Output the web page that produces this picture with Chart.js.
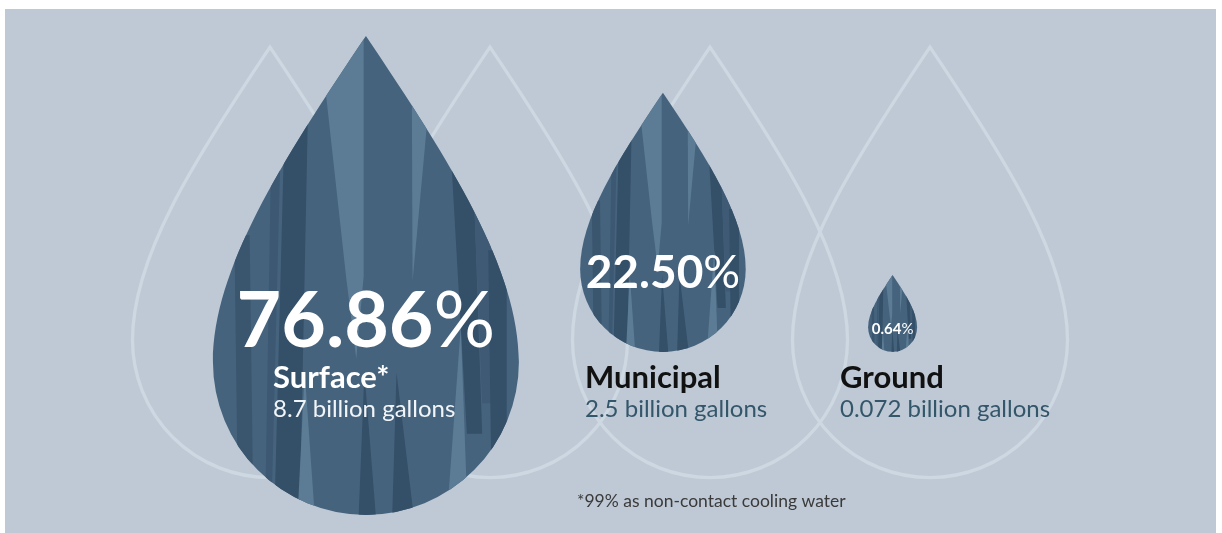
<!DOCTYPE html>
<html>
<head>
<meta charset="utf-8">
<title>Water withdrawal by source</title>
<script src="https://cdn.jsdelivr.net/npm/chart.js@4.4.0/dist/chart.umd.min.js"></script>
<style>
  html, body { margin: 0; padding: 0; background: #ffffff; }
  #wrap { width: 1222px; height: 533px; }
</style>
</head>
<body>
<div id="wrap"><canvas id="waterChart" width="1222" height="533"></canvas></div>
<script>
// Water withdrawal by source
const sources = ['Surface*', 'Municipal', 'Ground'];
const shares = [76.86, 22.50, 0.64];        // % of total withdrawal
const volumes = [8.7, 2.5, 0.072];          // billion gallons
const footnote = '*99% as non-contact cooling water';

// Layout (scale units: x 0..5, y 0..10)
const dropX = [1.436, 2.786, 3.83];
const dropY = [3.21, 4.95, 3.86];
const labelX = [1.014, 2.432, 3.591];
const labelRow = 2.72;
const pctFont = [77, 46, 15];
const backdropX = [1, 2, 3, 4];
const backdropY = 3.62;
const backdropR = 137.5;

// Colours
const panelColor = '#bec9d5';
const outlineColor = '#cdd8e2';
const dropBase = '#46637d';

// Streaks inside each drop, in drop units (u across from centre, w down from tip)
const streaks = [
  ['#5c7c96', [-1.2, 0, -0.015, 0, -0.015, 1.57, -0.063, 2.11, -0.13, 1.57, -0.26, 0.39, -1.2, 0.39]],
  ['#344f68', [-0.53, 0.5, -0.379, 0.5, -0.434, 3.2, -0.6, 3.2]],
  ['#3c5872', [-0.62, 0.8, -0.56, 0.8, -0.62, 3.2, -0.66, 3.2]],
  ['#3a566f', [-0.86, 1.3, -0.76, 1.3, -0.74, 2.8, -0.84, 2.8]],
  ['#5c7c96', [-0.40, 2.2, -0.33, 3.2, -0.45, 3.2]],
  ['#5c7c96', [0.30, 0.35, 0.42, 0.35, 0.305, 1.6]],
  ['#344f68', [0.56, 0.85, 0.70, 0.85, 0.76, 2.6, 0.66, 2.6]],
  ['#3e5a74', [0.70, 0.9, 0.80, 0.9, 0.86, 2.4, 0.76, 2.4]],
  ['#344f68', [0.80, 1.4, 0.92, 1.4, 0.92, 2.9, 0.82, 2.9]],
  ['#344f68', [-0.01, 2.2, 0.07, 3.2, -0.05, 3.2]],
  ['#344f68', [0.20, 2.2, 0.32, 3.2, 0.17, 3.2]],
  ['#5c7c96', [0.62, 1.9, 0.66, 3.0, 0.54, 3.0]]
];

// drop size follows the square root of the share, with a floor so small ones stay readable
function dropRadius(share) {
  return Math.max(24.5, 17.45 * Math.sqrt(share));
}

function dropPath(ctx, cx, cy, r) {
  const tipY = cy - 2.13 * r;
  ctx.beginPath();
  ctx.moveTo(cx, tipY);
  ctx.bezierCurveTo(cx + 0.559 * r, tipY + 0.829 * r, cx + r, cy - 0.6 * r, cx + r, cy);
  ctx.arc(cx, cy, r, 0, Math.PI);
  ctx.bezierCurveTo(cx - r, cy - 0.6 * r, cx - 0.559 * r, tipY + 0.829 * r, cx, tipY);
  ctx.closePath();
}

function drawPercent(ctx, value, cx, baseline, size) {
  const num = value.toFixed(2);
  ctx.font = `700 ${size}px Lato`;
  const wNum = ctx.measureText(num).width;
  ctx.font = `400 ${size}px Lato`;
  const wPct = ctx.measureText('%').width;
  const left = cx - (wNum + wPct) / 2;
  ctx.fillStyle = '#ffffff';
  ctx.textAlign = 'left';
  ctx.textBaseline = 'alphabetic';
  ctx.font = `700 ${size}px Lato`;
  ctx.fillText(num, left, baseline);
  ctx.font = `400 ${size}px Lato`;
  ctx.fillText('%', left + wNum, baseline);
}

const dropPlugin = {
  id: 'drops',
  beforeDraw(chart) {
    const ctx = chart.ctx;
    ctx.save();
    ctx.fillStyle = panelColor;
    ctx.fillRect(5, 9, chart.width - 11, chart.height - 9);
    ctx.restore();
  },
  afterDatasetsDraw(chart) {
    const ctx = chart.ctx;
    const xs = chart.scales.x;
    const ys = chart.scales.y;

    // outlined backdrop drops
    ctx.save();
    ctx.strokeStyle = outlineColor;
    ctx.lineWidth = 3.3;
    chart.getDatasetMeta(0).data.forEach(el => {
      dropPath(ctx, el.x, el.y, el.options.radius);
      ctx.stroke();
    });
    ctx.restore();

    // filled drops
    const meta = chart.getDatasetMeta(1);
    meta.data.forEach(el => {
      const r = el.options.radius;
      const tipY = el.y - 2.13 * r;
      ctx.save();
      dropPath(ctx, el.x, el.y, r);
      ctx.fillStyle = dropBase;
      ctx.fill();
      ctx.clip();
      streaks.forEach(([color, pts]) => {
        ctx.beginPath();
        for (let k = 0; k < pts.length; k += 2) {
          const px = el.x + pts[k] * r;
          const py = tipY + pts[k + 1] * r;
          if (k === 0) ctx.moveTo(px, py); else ctx.lineTo(px, py);
        }
        ctx.closePath();
        ctx.fillStyle = color;
        ctx.fill();
      });
      ctx.restore();
    });

    // labels
    const rowY = ys.getPixelForValue(labelRow);
    ctx.save();
    meta.data.forEach((el, i) => {
      const r = el.options.radius;
      const inside = r > 120;
      const pctBase = inside ? rowY - 41 : el.y + 0.2 * r + 2;
      drawPercent(ctx, shares[i], el.x, pctBase, pctFont[i]);

      const lx = xs.getPixelForValue(labelX[i]);
      ctx.textAlign = 'left';
      ctx.textBaseline = 'alphabetic';
      ctx.font = '700 31px Lato';
      ctx.fillStyle = inside ? '#ffffff' : '#111111';
      ctx.fillText(sources[i], lx, rowY);
      ctx.font = '400 24px Lato';
      ctx.fillStyle = inside ? '#f2f5f8' : '#34566a';
      ctx.fillText(String(volumes[i]) + ' billion gallons', lx, rowY + 29);
    });

    ctx.font = '400 17.5px Lato';
    ctx.fillStyle = '#3a3a3a';
    ctx.fillText(footnote, 577, 507);
    ctx.restore();
  }
};

new Chart(document.getElementById('waterChart'), {
  type: 'bubble',
  data: {
    datasets: [
      {
        label: 'backdrop',
        data: backdropX.map(x => ({ x: x, y: backdropY, r: backdropR })),
        backgroundColor: 'transparent',
        borderWidth: 0
      },
      {
        label: 'Water source',
        data: sources.map((s, i) => ({ x: dropX[i], y: dropY[i], r: dropRadius(shares[i]) })),
        backgroundColor: 'transparent',
        borderWidth: 0
      }
    ]
  },
  options: {
    responsive: false,
    animation: false,
    events: [],
    layout: { autoPadding: false, padding: { left: 50, right: 72, top: 0, bottom: 0 } },
    scales: {
      x: { type: 'linear', min: 0, max: 5, display: false },
      y: { type: 'linear', min: 0, max: 10, display: false }
    },
    plugins: {
      legend: { display: false },
      tooltip: { enabled: false }
    }
  },
  plugins: [dropPlugin]
});
</script>
</body>
</html>
